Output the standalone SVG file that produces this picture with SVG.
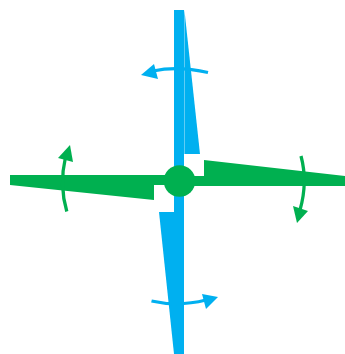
<svg xmlns="http://www.w3.org/2000/svg" width="345" height="354" viewBox="0 0 345 354">
<style>
.b{fill:#00b0f0}.g{fill:#00b050}
.al{fill:none;stroke-width:3.3}
.ab{stroke:#00b0f0}.ag{stroke:#00b050}
</style>
<g id="blade-vertical">
<rect class="b" x="174" y="10" width="10" height="344"/>
<polygon class="b" points="184.400,10 200,154 184.400,154"/>
<polygon class="b" points="159,212 174,212 174,354"/>
</g>
<g id="blade-horizontal">
<polygon class="g" points="10,175 180,175 180,185 154,185 154,200 10,185"/>
<polygon class="g" points="204,160 345,176 345,186 180,186 180,176 204,176"/>
</g>
<g id="hub"><circle class="g" cx="179.500" cy="181" r="15.800"/></g>
<g id="connectors">
<path class="al ab" d="M208,72.500Q178,65.500 153,71"/>
<polygon class="b" points="141,75 154,64 158,79"/>
<path class="al ag" d="M66.800,211.500Q59,185 65.500,157"/>
<polygon class="g" points="70,145 58,158 73,162"/>
<path class="al ag" d="M301,156Q308,182 300,210"/>
<polygon class="g" points="297,223 293,206 308,211"/>
<path class="al ab" d="M151.500,301Q178,307 206,300"/>
<polygon class="b" points="218,297 202,294 206,309"/>
</g>
</svg>
